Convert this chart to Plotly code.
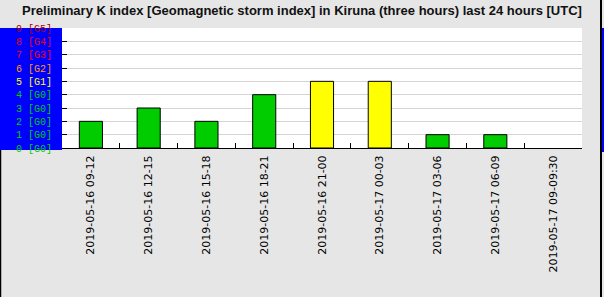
import plotly.graph_objects as go

# ---- data ----
categories = [
    "2019-05-16 09-12", "2019-05-16 12-15", "2019-05-16 15-18", "2019-05-16 18-21",
    "2019-05-16 21-00", "2019-05-17 00-03", "2019-05-17 03-06", "2019-05-17 06-09",
    "2019-05-17 09-09:30",
]
k_values = [2, 3, 2, 4, 5, 5, 1, 1, None]

k_levels = [0, 1, 2, 3, 4, 5, 6, 7, 8, 9]
k_labels = ["0 [G0]", "1 [G0]", "2 [G0]", "3 [G0]", "4 [G0]",
            "5 [G1]", "6 [G2]", "7 [G3]", "8 [G4]", "9 [G5]"]
level_colors = ["#00cc00", "#00cc00", "#00cc00", "#00cc00", "#00cc00",
                "#ffff00", "#ff9900", "#ff0000", "#ee0000", "#aa0000"]

title_text = "Preliminary K index [Geomagnetic storm index] in Kiruna (three hours) last 24 hours [UTC]"

# ---- layout geometry ----
FW, FH = 604, 297
L, R, T, B = 62, 22, 28, 149
PW, PH = FW - L - R, FH - T - B


def px(x):
    return (x - L) / PW


def py(y):
    return (FH - B - y) / PH


bar_colors = [level_colors[v] if v is not None else "#00cc00" for v in k_values]

fig = go.Figure()
fig.add_trace(go.Bar(
    x=categories, y=k_values, width=0.4,
    marker=dict(color=bar_colors, line=dict(color="black", width=1)),
))

ticktext = ['<span style="color:%s">%s</span>' % (c, t) for c, t in zip(level_colors, k_labels)]

shapes = [
    # blue panel behind y labels
    dict(type="rect", xref="paper", yref="paper", x0=px(0), x1=px(62), y0=py(150), y1=py(28),
         fillcolor="#0000ff", line=dict(width=0), layer="below"),
    # right blue strip
    dict(type="rect", xref="paper", yref="paper", x0=px(602), x1=px(604), y0=py(152), y1=py(28),
         fillcolor="#0000ff", line=dict(width=0), layer="below"),
    # right black border
    dict(type="line", xref="paper", yref="paper", x0=px(601), x1=px(601), y0=py(0), y1=py(297),
         line=dict(color="black", width=2)),
    # left black border
    dict(type="line", xref="paper", yref="paper", x0=px(0.5), x1=px(0.5), y0=py(150), y1=py(297),
         line=dict(color="black", width=1.5)),
]

fig.update_layout(
    width=FW, height=FH,
    margin=dict(l=L, r=R, t=T, b=B, pad=0),
    paper_bgcolor="#e6e6e6",
    plot_bgcolor="white",
    showlegend=False,
    bargap=0.6,
    title=dict(text="<b>" + title_text + "</b>", x=0.5, xref="container", xanchor="center",
               y=1 - 10.5 / FH, yref="container", yanchor="middle",
               font=dict(family="Liberation Sans, Arial", size=13, color="#111111")),
    xaxis=dict(type="category", tickson="boundaries", ticks="inside", ticklen=5, tickwidth=1,
               tickcolor="black", showline=True, linecolor="black", linewidth=1, showgrid=False,
               tickangle=-90, tickfont=dict(family="DejaVu Sans", size=11, color="black"),
               ticklabelstandoff=2, zeroline=False),
    yaxis=dict(range=[0, 9], tickvals=k_levels, ticktext=ticktext, ticks="inside", ticklen=5,
               tickwidth=1, tickcolor="black", showgrid=True, gridcolor="#d4d4d4", gridwidth=1,
               showline=False, zeroline=False,
               tickfont=dict(family="Liberation Mono, Courier New, monospace", size=10),
               ticklabelstandoff=9),
    shapes=shapes,
)

fig.write_html("out.html")
